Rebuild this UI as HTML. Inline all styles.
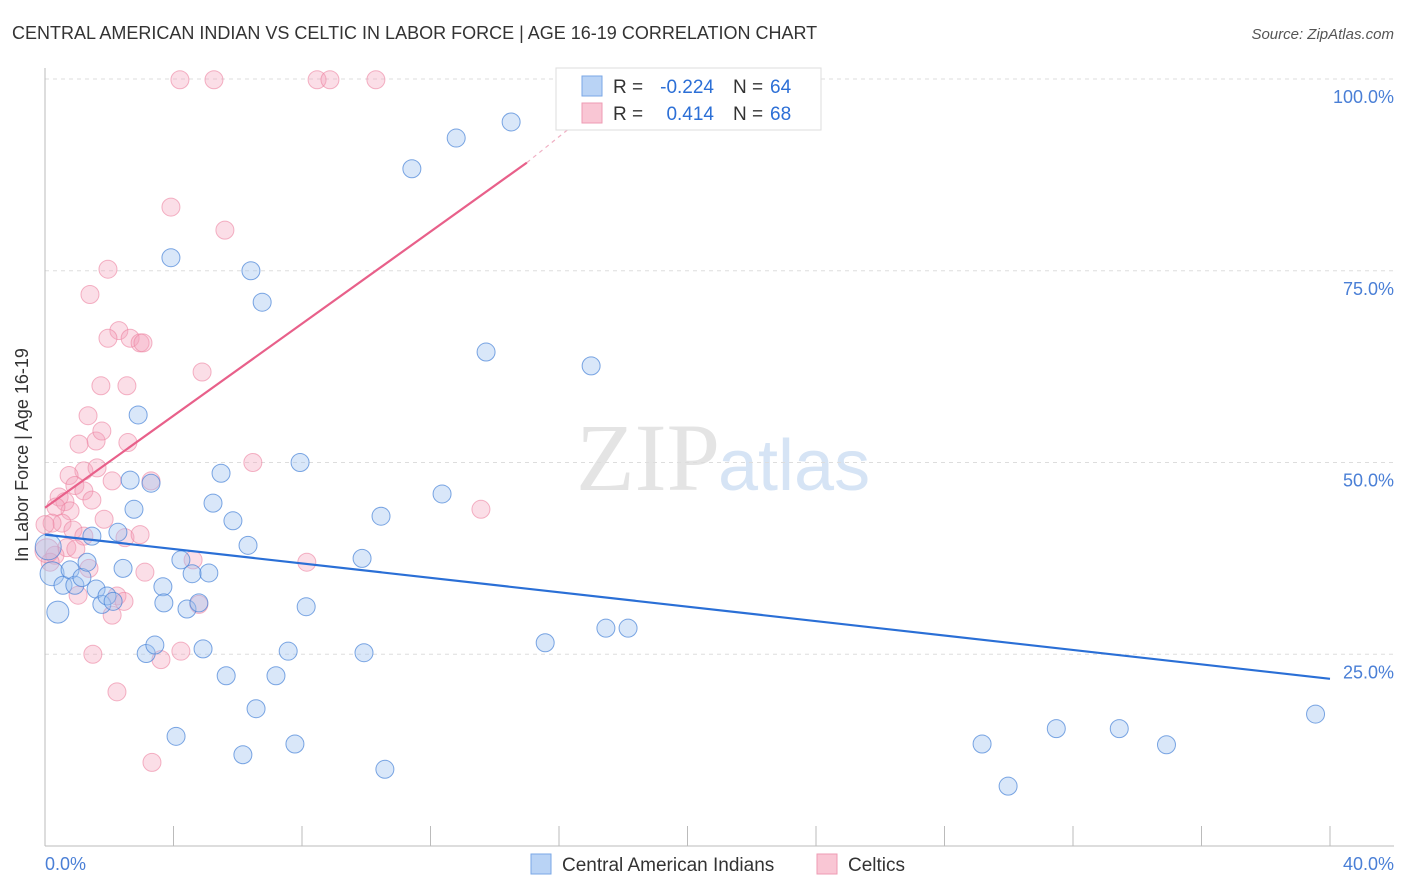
<!DOCTYPE html>
<html><head><meta charset="utf-8"><style>
body{margin:0;background:#fff;font-family:"Liberation Sans",sans-serif;}
svg{display:block}
</style></head><body>
<svg id="chart" width="1406" height="892">
<text x="12" y="39" font-size="18" fill="#333">CENTRAL AMERICAN INDIAN VS CELTIC IN LABOR FORCE | AGE 16-19 CORRELATION CHART</text>
<text x="1394" y="39" font-size="15" fill="#555" font-style="italic" text-anchor="end">Source: ZipAtlas.com</text>
<text x="720" y="490" font-size="96" fill="#e4e4e4" text-anchor="end" font-family="Liberation Serif,serif">ZIP</text>
<text x="718" y="490" font-size="72" fill="#d6e4f5">atlas</text>
<g id="grid"></g><g id="axes"></g><g id="pts"></g><g id="lines"></g>
<text x="28" y="455" font-size="18" fill="#333" text-anchor="middle" transform="rotate(-90 28 455)">In Labor Force | Age 16-19</text>
<text x="45" y="870" font-size="18" fill="#4a7fd6">0.0%</text>
<text x="1394" y="870" font-size="18" fill="#4a7fd6" text-anchor="end">40.0%</text>
<g>
<rect x="556" y="68" width="265" height="62" fill="#fff" stroke="#ddd"/>
<rect x="582" y="76" width="20" height="20" fill="#b9d3f5" stroke="#7aa7e6"/>
<rect x="582" y="103" width="20" height="20" fill="#f9c6d4" stroke="#ee9bb3"/>
<text x="613" y="93" font-size="19" fill="#333">R =</text>
<text x="714" y="93" font-size="19" fill="#2c6fd6" text-anchor="end">-0.224</text>
<text x="733" y="93" font-size="19" fill="#333">N =</text>
<text x="770" y="93" font-size="19" fill="#2c6fd6">64</text>
<text x="613" y="120" font-size="19" fill="#333">R =</text>
<text x="714" y="120" font-size="19" fill="#2c6fd6" text-anchor="end">0.414</text>
<text x="733" y="120" font-size="19" fill="#333">N =</text>
<text x="770" y="120" font-size="19" fill="#2c6fd6">68</text>
</g>
<g>
<rect x="531" y="854" width="20" height="20" fill="#b9d3f5" stroke="#7aa7e6"/>
<text x="562" y="871" font-size="19" fill="#333">Central American Indians</text>
<rect x="817" y="854" width="20" height="20" fill="#f9c6d4" stroke="#ee9bb3"/>
<text x="848" y="871" font-size="19" fill="#333">Celtics</text>
</g>
</svg>
<script>
const yTicks=[25,50,75,100];
const yTickLabels=["25.0%","50.0%","75.0%","100.0%"];
const blueX=[0.22,0.4,0.56,0.78,0.93,1.15,1.31,1.46,1.59,1.77,1.93,2.12,2.27,2.43,2.65,2.77,2.9,3.15,3.3,3.42,3.67,3.7,3.92,4.08,4.23,4.42,4.58,4.79,4.92,5.1,5.23,5.48,5.64,5.85,6.16,6.32,6.41,6.57,6.76,7.19,7.57,7.78,7.94,8.13,9.87,9.93,10.46,10.58,11.42,12.36,12.8,13.73,14.51,15.57,17.0,17.46,18.15,29.17,29.98,31.48,33.44,34.91,39.55,0.1];
const blueY=[35.5,30.5,34.0,36.0,34.0,35.0,37.0,40.4,33.5,31.5,32.6,31.9,40.9,36.2,47.7,43.9,56.2,25.1,47.3,26.2,33.8,31.7,76.7,14.3,37.3,30.9,35.5,31.7,25.7,35.6,44.7,48.6,22.2,42.4,11.9,39.2,75.0,17.9,70.9,22.2,25.4,13.3,50.0,31.2,37.5,25.2,43.0,10.0,88.3,45.9,92.3,64.4,94.4,26.5,62.6,28.4,28.4,13.3,7.8,15.3,15.3,13.2,17.2,39.0];
const blueR=[12,11,9,9,9,9,9,9,9,9,9,9,9,9,9,9,9,9,9,9,9,9,9,9,9,9,9,9,9,9,9,9,9,9,9,9,9,9,9,9,9,9,9,9,9,9,9,9,9,9,9,9,9,9,9,9,9,9,9,9,9,9,9,13];
const pinkX=[4.2,5.26,8.47,8.87,10.3,3.92,5.6,1.96,1.4,2.3,1.96,2.65,2.96,3.05,4.89,1.74,2.55,1.34,1.59,2.58,1.06,1.77,1.21,1.62,0.75,2.09,3.3,0.93,1.21,6.47,1.46,0.44,0.62,0.78,0.34,13.57,1.84,0.53,0.22,0.87,0,1.21,2.49,2.96,0.68,0.96,0.31,0.16,1.37,3.11,4.61,8.15,1.03,2.24,2.46,4.79,2.09,4.23,1.49,3.61,2.24,3.33,0.06];
const pinkY=[99.9,99.9,99.9,99.9,99.9,83.3,80.3,75.2,71.9,67.2,66.2,66.2,65.6,65.6,61.8,60.0,60.0,56.1,52.8,52.6,52.4,54.1,48.9,49.3,48.3,47.6,47.6,47.0,46.3,50.0,45.1,45.5,44.9,43.7,44.2,43.9,42.6,42.1,42.1,41.2,41.9,40.4,40.2,40.6,38.9,38.7,37.9,37.0,36.2,35.7,37.3,37.0,32.7,32.6,31.9,31.5,30.1,25.4,25.0,24.3,20.1,10.9,38.5];
const pinkR=[9,9,9,9,9,9,9,9,9,9,9,9,9,9,9,9,9,9,9,9,9,9,9,9,9,9,9,9,9,9,9,9,9,9,9,9,9,9,9,9,9,9,9,9,9,9,9,9,9,9,9,9,9,9,9,9,9,9,9,9,9,9,12];
const blueLine=[[0,40.6],[40,21.8]];
const pinkLine=[[0,44.1],[15,89.1]];
const pinkDash=[[15,89.1],[16.6,94.5]];
const X0=45,X1=1330,Y0=846,Y100=79;
const sx=v=>X0+(X1-X0)*v/40, sy=v=>Y0-(Y0-Y100)*v/100;
const NS="http://www.w3.org/2000/svg";
function mk(p,t,a){const e=document.createElementNS(NS,t);for(const k in a)e.setAttribute(k,a[k]);document.getElementById(p).appendChild(e);return e;}
yTicks.forEach((t,i)=>{
 const g=mk('grid','line',{x1:45,x2:1394,y1:sy(t),y2:sy(t),stroke:'#ddd','stroke-dasharray':'4 4'});
 
 
 const l=mk('grid','text',{x:1394,y:sy(t)+24,'font-size':18,fill:'#4a7fd6','text-anchor':'end'});
 l.textContent=yTickLabels[i];
 
 
});
const ax=mk('axes','line',{x1:45,x2:45,y1:68,y2:846,stroke:'#bbb'});


const bx=mk('axes','line',{x1:45,x2:1394,y1:846,y2:846,stroke:'#bbb'});


for(let i=0;i<=10;i++){const t=mk('axes','line',{x1:sx(i*4),x2:sx(i*4),y1:826,y2:846,stroke:'#bbb'});
 
 }
pinkX.forEach((v,i)=>{const c=mk('pts','circle',{cx:sx(v),cy:sy(pinkY[i]),r:pinkR[i],fill:'rgba(244,160,185,0.35)',stroke:'rgba(236,130,160,0.6)'});
 
 });
blueX.forEach((v,i)=>{const c=mk('pts','circle',{cx:sx(v),cy:sy(blueY[i]),r:blueR[i],fill:'rgba(160,195,240,0.4)',stroke:'rgba(70,130,215,0.7)'});
 
 });
const bl=mk('lines','line',{x1:sx(blueLine[0][0]),y1:sy(blueLine[0][1]),x2:sx(blueLine[1][0]),y2:sy(blueLine[1][1]),stroke:'#2a6fd6','stroke-width':2.2});


const pl=mk('lines','line',{x1:sx(pinkLine[0][0]),y1:sy(pinkLine[0][1]),x2:sx(pinkLine[1][0]),y2:sy(pinkLine[1][1]),stroke:'#e8608a','stroke-width':2.2});


const pd=mk('lines','line',{x1:sx(pinkDash[0][0]),y1:sy(pinkDash[0][1]),x2:sx(pinkDash[1][0]),y2:sy(pinkDash[1][1]),stroke:'#f0b0c4','stroke-width':1.2,'stroke-dasharray':'4 4'});


</script>
</body></html>
